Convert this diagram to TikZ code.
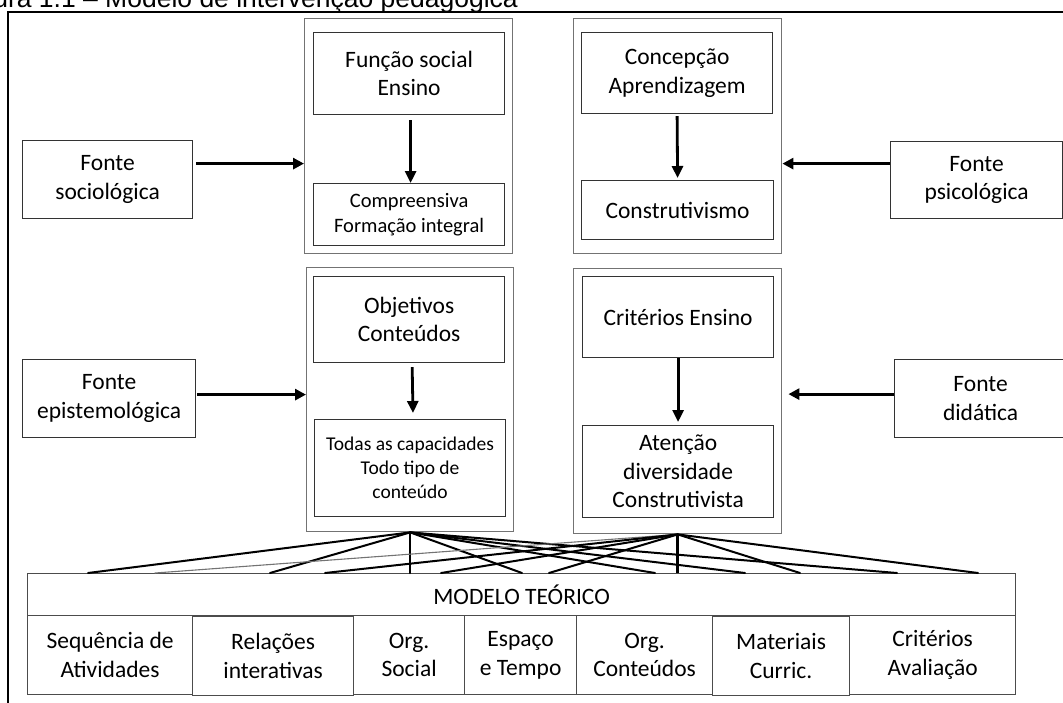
\documentclass[tikz,border=0pt]{standalone}
\usepackage{fontspec}
\setmainfont{Carlito}
\newfontfamily\capfont{Liberation Sans}
\usetikzlibrary{arrows.meta}
\begin{document}
\begin{tikzpicture}[x=1pt,y=-1pt,
  bx/.style={draw=black!80, line width=1.2pt, rectangle, inner sep=0pt, anchor=north west, align=center, font=\fontsize{23.5}{28.5}\selectfont},
  smallbx/.style={bx, font=\fontsize{20.5}{25}\selectfont},
  tinybx/.style={bx, font=\fontsize{19.5}{24}\selectfont},
  cont/.style={draw=black!55, line width=1.4pt, rectangle, inner sep=0pt, anchor=north west},
  modbx/.style={draw=black!70, line width=1.2pt, rectangle, inner sep=0pt, anchor=north west, align=center, font=\fontsize{23.5}{28.5}\selectfont},
  harr/.style={line width=3pt, -{Triangle[length=11pt,width=11pt]}},
  varr/.style={line width=2.8pt, -{Triangle[length=12pt,width=11pt]}},
  fan/.style={line width=2pt, line cap=round},
  thinfan/.style={line width=1.1pt, draw=black!55, line cap=round},
]
\useasboundingbox (0,0) rectangle (1063,702);

% caption (cut by the page top) and frame
\node[anchor=base east, inner sep=0pt, font=\capfont\fontsize{26.5}{30}\selectfont] (cap) at (518,7) {Figura 1.1 – Modelo de intervenção pedagógica};
\draw[line width=2pt] (8,712) -- (8,12) -- (1075,12);

% containers
\node[cont, minimum width=208pt, minimum height=235pt] (c1) at (304,18) {};
\node[cont, minimum width=208pt, minimum height=235pt] (c2) at (573,18) {};
\node[cont, minimum width=207pt, minimum height=264pt] (c3) at (306,267) {};
\node[cont, minimum width=208pt, minimum height=265pt] (c4) at (573,268) {};

% inner boxes
\node[bx, minimum width=191pt, minimum height=82pt] (f1) at (313,32) {Função social\\Ensino};
\node[smallbx, minimum width=191pt, minimum height=62pt] (f2) at (313,183) {Compreensiva\\Formação integral};
\node[bx, minimum width=191pt, minimum height=81pt] (p1) at (581,32) {Concepção\\Aprendizagem};
\node[bx, minimum width=192pt, minimum height=59pt] (p2) at (581,180) {Construtivismo};
\node[bx, minimum width=191pt, minimum height=86pt] (e1) at (313,276) {Objetivos\\Conteúdos};
\node[tinybx, minimum width=191pt, minimum height=97pt] (e2) at (314,419) {Todas as capacidades\\Todo tipo de\\conteúdo};
\node[bx, minimum width=191pt, minimum height=81pt] (d1) at (582,276) {Critérios Ensino};
\node[bx, minimum width=191pt, minimum height=92pt] (d2) at (582,425) {Atenção\\diversidade\\Construtivista};

% source boxes
\node[bx, minimum width=170pt, minimum height=78pt] (soc) at (22,140) {Fonte\\sociológica};
\node[bx, minimum width=173pt, minimum height=78pt] (epi) at (22,359) {Fonte\\epistemológica};
\node[bx, minimum width=172pt, minimum height=77pt] (psi) at (890,141) {Fonte\\psicológica};
\node[bx, minimum width=172pt, minimum height=78pt] (did) at (894,359) {Fonte\\didática};

% horizontal arrows
\path ([shift={(3,-16)}]soc.east) coordinate (sa);
\draw[harr] (sa) -- (sa -| c1.west);
\path ([shift={(1,-4)}]epi.east) coordinate (ea);
\draw[harr] (ea) -- (ea -| c3.west);
\path ([shift={(0,-16.5)}]psi.west) coordinate (pa);
\draw[harr] (pa) -- (pa -| c2.east);
\path ([shift={(0,-4.5)}]did.west) coordinate (da);
\path (da -| c4.east) ++(6,0) coordinate (dt);
\draw[harr] (da) -- (dt);

% vertical arrows
\draw[varr, shorten <=5pt] ([xshift=1.5pt]f1.south) -- ([xshift=1.5pt]f2.north);
\draw[varr, shorten <=2pt, shorten >=2pt] (p1.south) -- (p2.north);
\draw[varr, shorten <=4pt, shorten >=6pt] ([xshift=3pt]e1.south) -- ([xshift=3pt]e2.north);
\draw[varr, shorten >=3pt] (d1.south) -- (d2.north);

% model
\node[modbx, minimum width=988pt, minimum height=42pt] (mod) at (27,573) {MODELO TEÓRICO};
\node[modbx, minimum width=165pt, minimum height=79pt] (b1) at (27,615) {Sequência de\\Atividades};
\node[modbx, minimum width=161pt, minimum height=79pt] (b2) at (192,616) {Relações\\interativas};
\node[modbx, minimum width=111pt, minimum height=79pt] (b3) at (353,615) {Org.\\Social};
\node[modbx, minimum width=112pt, minimum height=79pt] (b4) at (464,615) {Espaço\\e Tempo};
\node[modbx, minimum width=136pt, minimum height=79pt] (b5) at (576,615) {Org.\\Conteúdos};
\node[modbx, minimum width=137pt, minimum height=79pt] (b6) at (712,616) {Materiais\\Curric.};
\node[modbx, minimum width=166pt, minimum height=79pt] (b7) at (849,615) {Critérios\\Avaliação};

% fan end points on the model box
\coordinate (a1) at (88,573);
\coordinate (a2) at (270,573);
\coordinate (a3) at (522,573);
\coordinate (a4) at (655,573);
\coordinate (a5) at (745,573);
\coordinate (a6) at (897,573);
\coordinate (g1) at (155,573);
\coordinate (g2) at (325,573);
\coordinate (g3) at (441,573);
\coordinate (g4) at (549,573);
\coordinate (g5) at (800,573);
\coordinate (g6) at (978,573);

\foreach \t in {a1,a2,a3,a4,a5,a6} \draw[fan] (c3.south) -- (\t);
\draw[fan] (c3.south) -- (c3.south |- mod.north);
\draw[thinfan] (c4.south) -- (g1);
\foreach \t in {g2,g3,g4,g5,g6} \draw[fan] (c4.south) -- (\t);
\draw[line width=3pt] (c4.south) -- (c4.south |- mod.north);
\end{tikzpicture}
\end{document}
